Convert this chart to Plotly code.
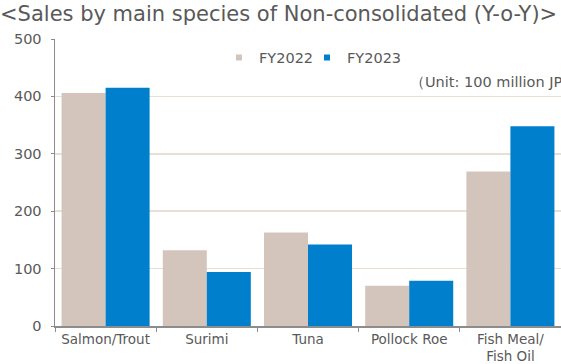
import plotly.graph_objects as go

categories = ["Salmon/Trout", "Surimi", "Tuna", "Pollock Roe", "Fish Meal/<br>Fish Oil"]
fy2022 = [406, 132, 163, 70, 269]
fy2023 = [415, 94, 142, 79, 348]
series_names = ["FY2022", "FY2023"]
colors = ["#d3c5bc", "#0080cc"]
yticks = [0, 100, 200, 300, 400, 500]

FONT = "DejaVu Sans"
TXT = "#595959"

fig = go.Figure()
for name, vals, col in zip(series_names, [fy2022, fy2023], colors):
    fig.add_trace(go.Bar(x=categories, y=vals, name=name, marker=dict(color=col, line=dict(width=0)),
                         showlegend=False))
for name, col, lg in zip(series_names, colors, ["legend", "legend2"]):
    fig.add_trace(go.Scatter(x=[None], y=[None], mode="markers", name=name, legend=lg,
                             marker=dict(symbol="square", size=6, color=col)))

legend_y = (325.7 - 57.3) / 287
legend_common = dict(orientation="h", xanchor="left", y=legend_y, yanchor="middle",
                     font=dict(size=14.5, color=TXT), bgcolor="rgba(0,0,0,0)", itemwidth=30)

fig.update_layout(
    width=561, height=364,
    margin=dict(l=55, r=0, t=39, b=38, autoexpand=False),
    paper_bgcolor="white", plot_bgcolor="white",
    font=dict(family=FONT, color=TXT, size=13.5),
    barmode="group", bargap=0.13, bargroupgap=0,
    title=dict(text="&lt;Sales by main species of Non-consolidated (Y-o-Y)&gt;",
               x=0, xanchor="left", xref="container", y=1 - 14 / 364, yref="container",
               yanchor="middle",
               font=dict(size=21, color=TXT, family=FONT)),
    legend=dict(x=(259 - 40 - 55) / 506, **legend_common),
    legend2=dict(x=(347 - 40 - 55) / 506, **legend_common),
    xaxis=dict(showline=True, linecolor="#8c8c8c", linewidth=1.5, ticks="outside",
               tickson="boundaries", ticklen=4, tickcolor="#8c8c8c", showgrid=False,
               automargin=False, tickfont=dict(size=13.5, color=TXT)),
    yaxis=dict(range=[0, 500], tickvals=yticks, showline=True, linecolor="#8c8c8c", linewidth=1.5,
               ticks="outside", ticklen=3, tickcolor="#8c8c8c", gridcolor="#e8dfd4", gridwidth=1.5,
               zeroline=False, automargin=False, tickfont=dict(size=14.5, color=TXT),
               ticklabelstandoff=6),
)
fig.add_annotation(text="（Unit: 100 million JPY）", xref="paper", yref="paper",
                   x=(420 - 55 - 12) / 506, y=(325.7 - 81.7) / 287, xanchor="left", yanchor="middle",
                   showarrow=False, font=dict(size=14.5, color=TXT))

fig.write_html("out.html", config={"displayModeBar": False, "staticPlot": True},
               post_script="document.body.style.margin='0';")
